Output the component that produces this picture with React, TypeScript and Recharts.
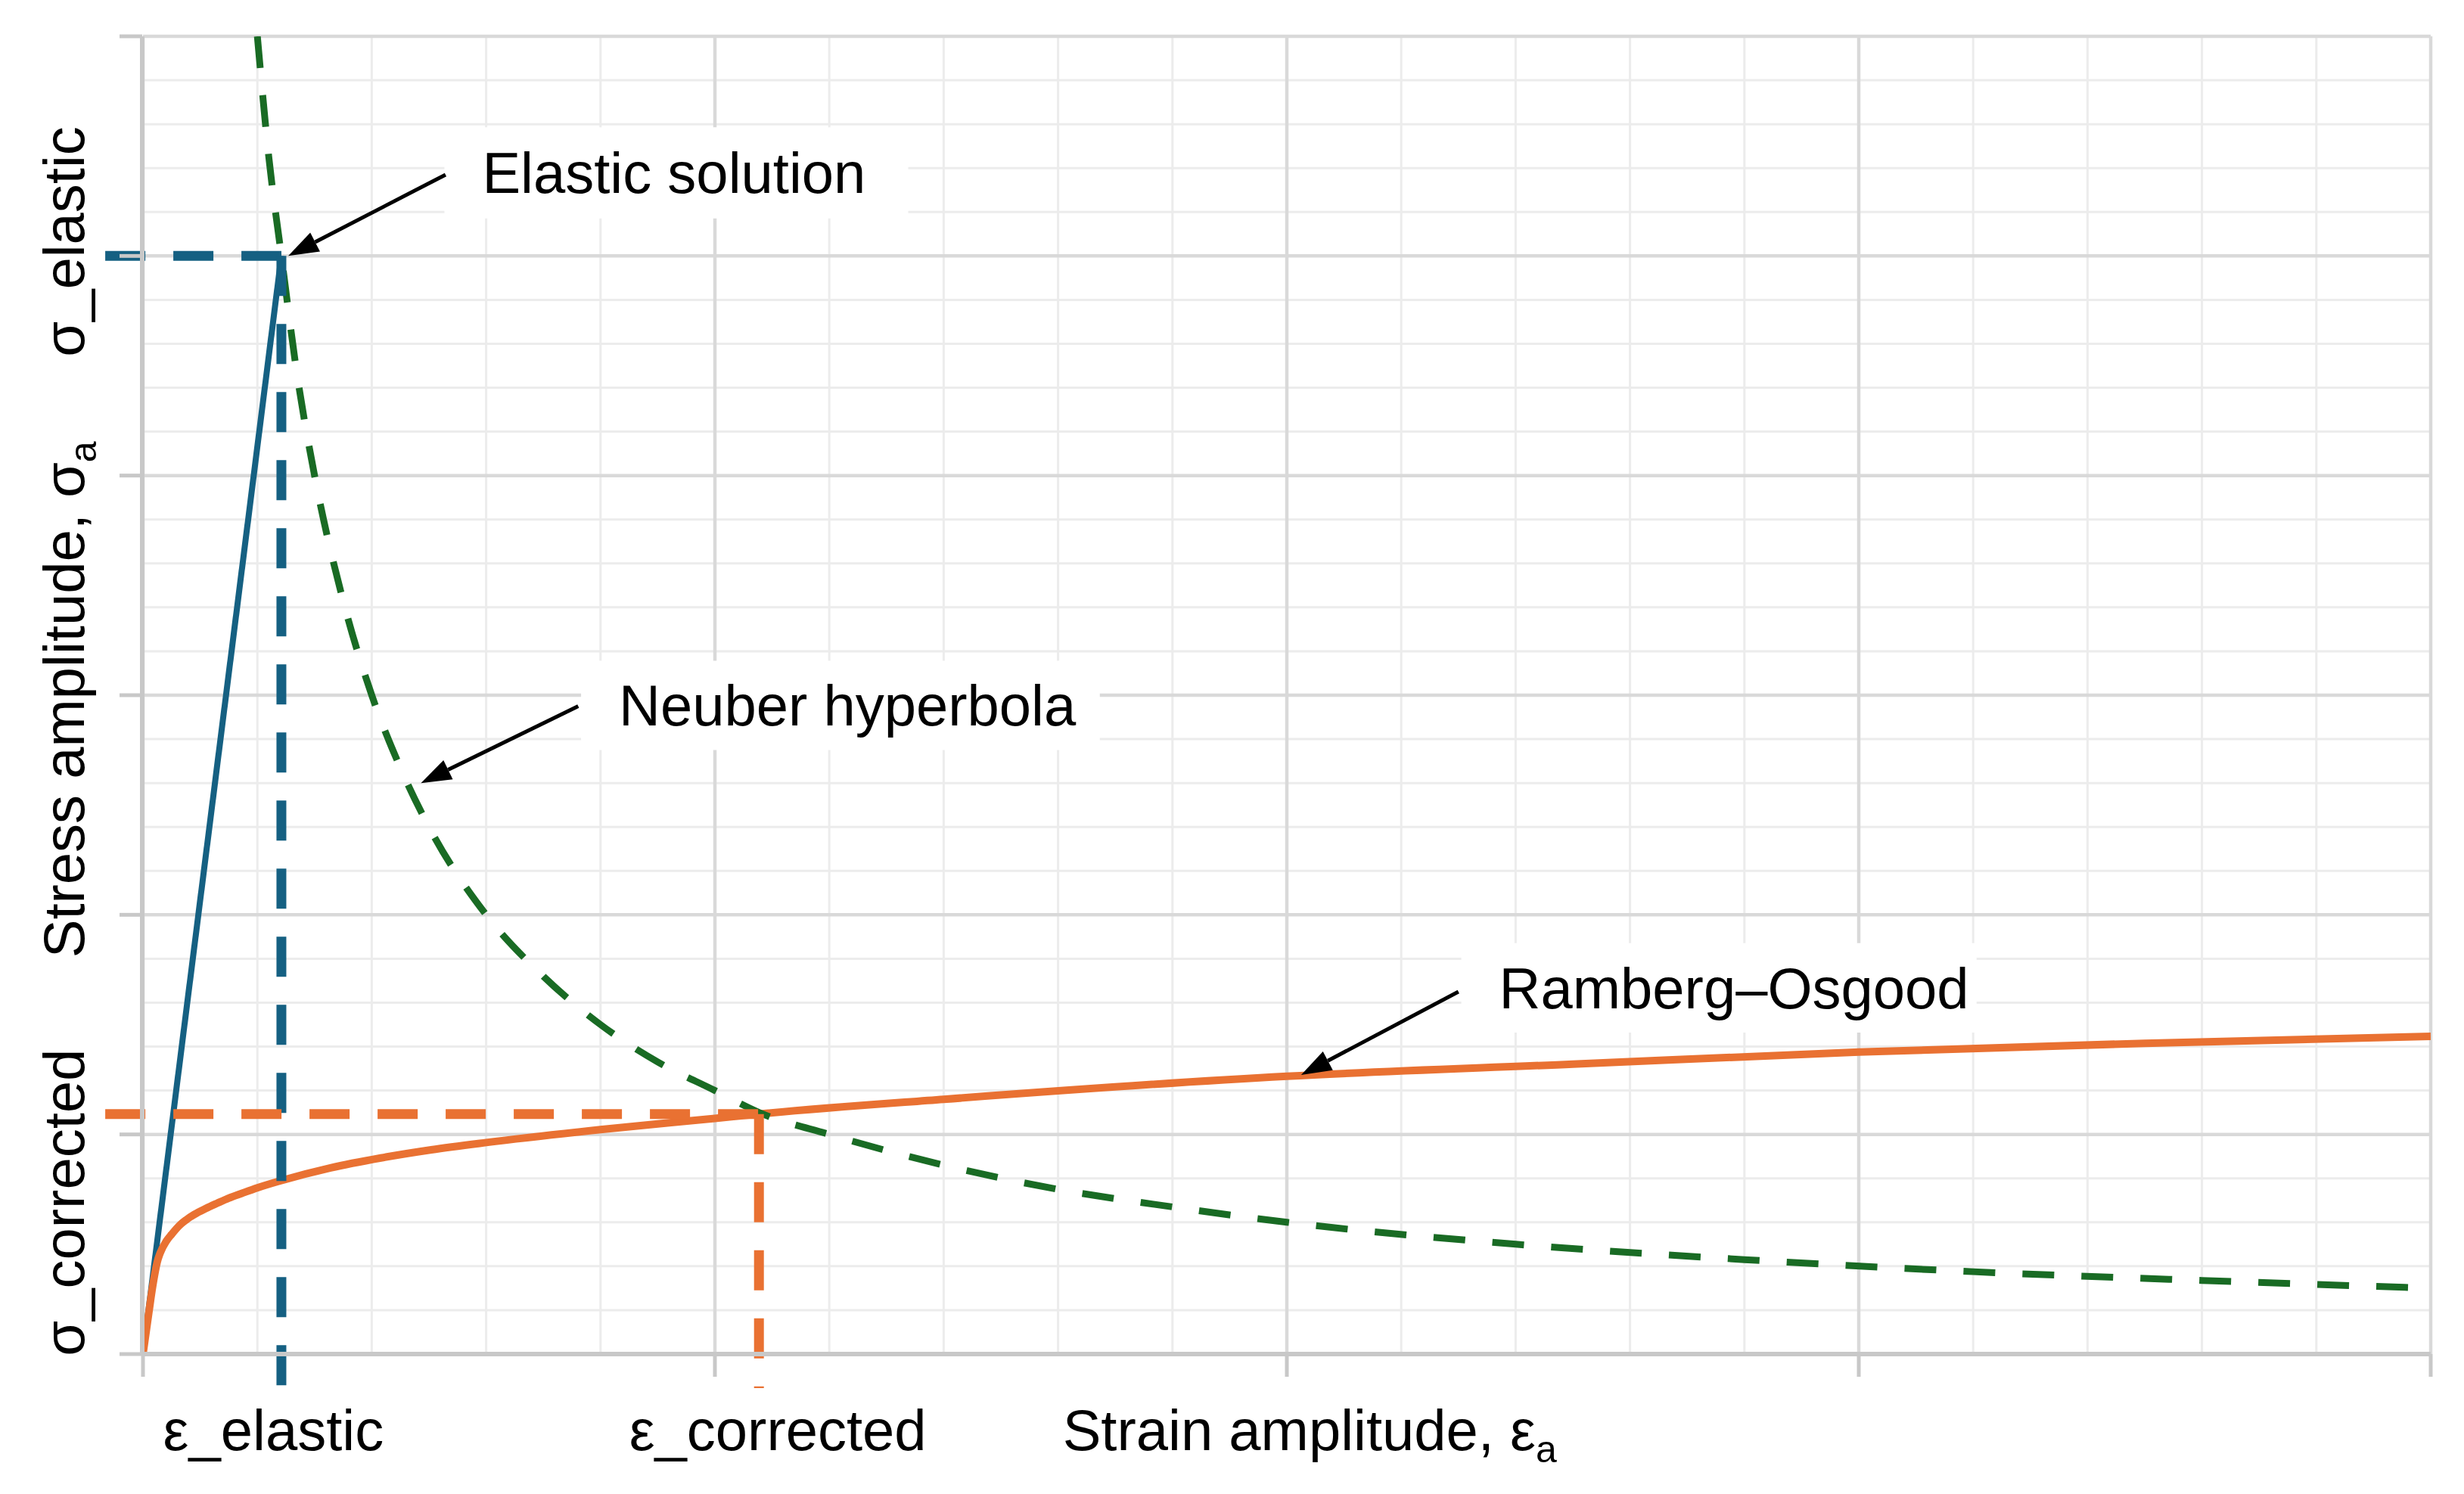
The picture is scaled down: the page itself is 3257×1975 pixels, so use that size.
import React from "react";
import {
  LineChart,
  Line,
  XAxis,
  YAxis,
  CartesianGrid,
  ReferenceLine,
  ReferenceArea,
  ReferenceDot,
} from "recharts";

const FONT = "'Liberation Sans', Arial, sans-serif";
const FS = 76;

// axis ticks, in grid units (strain: 4 major cells, stress: 6 major cells)
const strainTicks = [0, 1, 2, 3, 4];
const stressTicks = [0, 1, 2, 3, 4, 5, 6];
const strainMinorTicks = [
  0, 0.2, 0.4, 0.6, 0.8, 1, 1.2, 1.4, 1.6, 1.8, 2, 2.2, 2.4, 2.6, 2.8, 3, 3.2,
  3.4, 3.6, 3.8, 4,
];
const stressMinorTicks = [
  0, 0.2, 0.4, 0.6, 0.8, 1, 1.2, 1.4, 1.6, 1.8, 2, 2.2, 2.4, 2.6, 2.8, 3, 3.2,
  3.4, 3.6, 3.8, 4, 4.2, 4.4, 4.6, 4.8, 5, 5.2, 5.4, 5.6, 5.8, 6,
];

// axis labels
const strainLabels = ["ε_elastic", "ε_corrected", "Strain amplitude, ε"];
const strainLabelSubs = ["", "", "a"];
const strainLabelAt = [0.228, 1.11, 2.04];
const stressLabels = ["σ_corrected", "Stress amplitude, σ", "σ_elastic"];
const stressLabelSubs = ["", "a", ""];
const stressLabelAt = [0.69, 2.98, 5.065];

// solution points
const epsElastic = 0.242;
const sigElastic = 5.0;
const epsCorrected = 1.077;
const sigCorrected = 1.093;

// elastic line
const elasticStrain = [0, epsElastic];
const elasticStress = [0, sigElastic];

// Ramberg-Osgood curve
const roStrain = [
  0, 0.0106, 0.017, 0.025, 0.03, 0.041, 0.05, 0.063, 0.075, 0.09, 0.11, 0.13,
  0.15, 0.173, 0.2, 0.239, 0.328, 0.416, 0.504, 0.6, 0.8, 1.0, 1.077, 1.4, 2.0,
  2.5, 3.0, 3.5, 4.0,
];
const roStress = [
  0, 0.196, 0.31, 0.42, 0.46, 0.515, 0.545, 0.584, 0.61, 0.636, 0.663, 0.687,
  0.71, 0.732, 0.757, 0.788, 0.848, 0.893, 0.93, 0.963, 1.022, 1.073, 1.093,
  1.16, 1.265, 1.32, 1.375, 1.415, 1.447,
];

// Neuber hyperbola
const neuberStrain = [
  0.2, 0.22, 0.242, 0.27, 0.3, 0.35, 0.4, 0.45, 0.5, 0.6, 0.7, 0.8, 0.9, 1.0,
  1.077, 1.2, 1.4, 1.6, 1.8, 2.0, 2.4, 2.8, 3.2, 3.6, 4.0,
];
const neuberStress = [
  6.0, 5.45, 5.0, 4.45, 4.0, 3.43, 3.0, 2.67, 2.4, 2.0, 1.72, 1.5, 1.33, 1.2,
  1.1, 1.0, 0.86, 0.75, 0.67, 0.6, 0.5, 0.43, 0.375, 0.335, 0.3,
];

// callouts: text, box [x1, x2, yBottom, yTop], arrow from -> to
const notes = ["Elastic solution", "Neuber hyperbola", "Ramberg–Osgood"];
const noteBoxes = [
  [0.527, 1.338, 5.171, 5.586],
  [0.766, 1.673, 2.75, 3.157],
  [2.305, 3.206, 1.464, 1.871],
];
const noteFrom = [
  [0.529, 5.37],
  [0.761, 2.95],
  [2.3, 1.65],
];
const noteTo = [
  [0.254, 5.0],
  [0.486, 2.6],
  [2.025, 1.271],
];

const zip = (xs: number[], ys: number[]) => xs.map((x, i) => ({ x, y: ys[i] }));
const elasticData = zip(elasticStrain, elasticStress);
const roData = zip(roStrain, roStress);
const neuberData = zip(neuberStrain, neuberStress);

const BLUE = "#156082";
const ORANGE = "#E97132";
const GREEN = "#196B24";
const AXIS = "#c8c8c8";

function EmptyTick() {
  return <g />;
}

function ArrowShape(props: any) {
  const { x1, y1, x2, y2 } = props;
  const a = Math.atan2(y2 - y1, x2 - x1);
  const head = 40;
  const half = 14;
  const bx = x2 - head * Math.cos(a);
  const by = y2 - head * Math.sin(a);
  const pts = [
    `${x2},${y2}`,
    `${bx + half * Math.sin(a)},${by - half * Math.cos(a)}`,
    `${bx - half * Math.sin(a)},${by + half * Math.cos(a)}`,
  ].join(" ");
  return (
    <g>
      <line x1={x1} y1={y1} x2={bx} y2={by} stroke="#000" strokeWidth={5} />
      <polygon points={pts} fill="#000" />
    </g>
  );
}

// x-axis caption, drawn under the axis at the dot position
const strainLabelShape = (i: number) => (props: any) => {
  const { cx, cy } = props;
  return (
    <text x={cx} y={cy + 127} textAnchor="middle" fontSize={FS} fill="#000">
      {strainLabels[i]}
      {strainLabelSubs[i] && (
        <tspan dy={16} fontSize={50}>
          {strainLabelSubs[i]}
        </tspan>
      )}
    </text>
  );
};

function StressLabel(props: any) {
  const { x, y, index } = props;
  const bx = x - 78;
  return (
    <text
      x={bx}
      y={y}
      textAnchor="middle"
      fontSize={FS}
      fill="#000"
      transform={`rotate(-90, ${bx}, ${y})`}
    >
      {stressLabels[index]}
      {stressLabelSubs[index] && (
        <tspan dy={16} fontSize={50}>
          {stressLabelSubs[index]}
        </tspan>
      )}
    </text>
  );
}

export default function App() {
  return (
    <div style={{ width: 3257, height: 1975, background: "#fff", fontFamily: FONT }}>
      <style>{`body{margin:0;}`}</style>
      <LineChart
        width={3257}
        height={1975}
        margin={{ top: 48, right: 44, bottom: 184, left: 187 }}
      >
        <XAxis
          xAxisId="minor"
          type="number"
          dataKey="x"
          domain={[0, 4]}
          ticks={strainMinorTicks}
          interval={0}
          allowDataOverflow
          hide
        />
        <YAxis
          yAxisId="minor"
          type="number"
          domain={[0, 6]}
          ticks={stressMinorTicks}
          interval={0}
          allowDataOverflow
          hide
        />
        <CartesianGrid xAxisId="minor" yAxisId="minor" stroke="#ececec" strokeWidth={3} />
        <CartesianGrid xAxisId="major" yAxisId="major" stroke="#d9d9d9" strokeWidth={4.5} />

        <XAxis
          xAxisId="major"
          type="number"
          dataKey="x"
          domain={[0, 4]}
          ticks={strainTicks}
          interval={0}
          allowDataOverflow
          height={1}
          tick={EmptyTick}
          tickSize={30}
          tickLine={{ stroke: AXIS, strokeWidth: 5 }}
          axisLine={{ stroke: AXIS, strokeWidth: 6 }}
        />
        <YAxis
          yAxisId="major"
          type="number"
          domain={[0, 6]}
          ticks={stressTicks}
          interval={0}
          allowDataOverflow
          width={1}
          tick={EmptyTick}
          tickSize={30}
          tickLine={{ stroke: AXIS, strokeWidth: 5 }}
          axisLine={{ stroke: AXIS, strokeWidth: 6 }}
        />
        <YAxis
          yAxisId="lab"
          type="number"
          domain={[0, 6]}
          ticks={stressLabelAt}
          interval={0}
          allowDataOverflow
          width={1}
          tickSize={0}
          tickMargin={0}
          tickLine={false}
          axisLine={false}
          tick={StressLabel}
        />

        {notes.map((n, i) => (
          <ReferenceArea
            key={n}
            xAxisId="major"
            yAxisId="major"
            x1={noteBoxes[i][0]}
            x2={noteBoxes[i][1]}
            y1={noteBoxes[i][2]}
            y2={noteBoxes[i][3]}
            fill="#fff"
            fillOpacity={1}
            stroke="none"
            label={{ value: n, position: "insideLeft", offset: 50, fill: "#000", fontSize: FS }}
          />
        ))}

        <Line
          xAxisId="major"
          yAxisId="major"
          data={elasticData}
          dataKey="y"
          type="linear"
          stroke={BLUE}
          strokeWidth={8}
          dot={false}
          activeDot={false}
          isAnimationActive={false}
        />
        <Line
          xAxisId="major"
          yAxisId="major"
          data={roData}
          dataKey="y"
          type="monotone"
          stroke={ORANGE}
          strokeWidth={10}
          dot={false}
          activeDot={false}
          isAnimationActive={false}
        />
        <Line
          xAxisId="major"
          yAxisId="major"
          data={neuberData}
          dataKey="y"
          type="monotone"
          stroke={GREEN}
          strokeWidth={9}
          strokeDasharray="42 36"
          dot={false}
          activeDot={false}
          isAnimationActive={false}
        />

        <ReferenceLine
          xAxisId="major"
          yAxisId="major"
          segment={[{ x: -0.066, y: sigElastic }, { x: epsElastic, y: sigElastic }]}
          stroke={BLUE}
          strokeWidth={13}
          strokeDasharray="53 37"
          ifOverflow="visible"
        />
        <ReferenceLine
          xAxisId="major"
          yAxisId="major"
          segment={[{ x: epsElastic, y: sigElastic }, { x: epsElastic, y: -0.155 }]}
          stroke={BLUE}
          strokeWidth={13}
          strokeDasharray="53 37"
          ifOverflow="visible"
        />
        <ReferenceLine
          xAxisId="major"
          yAxisId="major"
          segment={[{ x: -0.066, y: sigCorrected }, { x: epsCorrected, y: sigCorrected }]}
          stroke={ORANGE}
          strokeWidth={13}
          strokeDasharray="53 37"
          ifOverflow="visible"
        />
        <ReferenceLine
          xAxisId="major"
          yAxisId="major"
          segment={[{ x: epsCorrected, y: sigCorrected }, { x: epsCorrected, y: -0.155 }]}
          stroke={ORANGE}
          strokeWidth={13}
          strokeDasharray="53 37"
          ifOverflow="visible"
        />

        {notes.map((n, i) => (
          <ReferenceLine
            key={`arrow-${n}`}
            xAxisId="major"
            yAxisId="major"
            segment={[
              { x: noteFrom[i][0], y: noteFrom[i][1] },
              { x: noteTo[i][0], y: noteTo[i][1] },
            ]}
            ifOverflow="visible"
            shape={ArrowShape}
          />
        ))}

        {strainLabelAt.map((v, i) => (
          <ReferenceDot
            key={`xlab-${i}`}
            xAxisId="major"
            yAxisId="major"
            x={v}
            y={0}
            r={1}
            ifOverflow="visible"
            shape={strainLabelShape(i)}
          />
        ))}
      </LineChart>
    </div>
  );
}
